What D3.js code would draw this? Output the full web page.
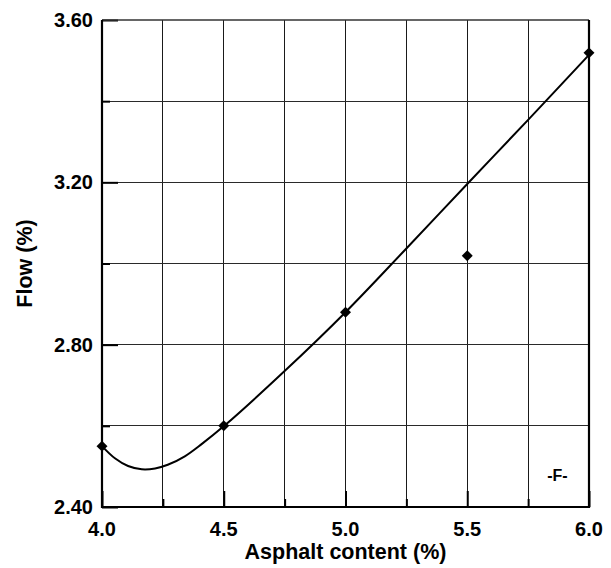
<!DOCTYPE html>
<html>
<head>
<meta charset="utf-8">
<script src="https://cdn.jsdelivr.net/npm/d3@7"></script>
<style>
  body { margin: 0; background: #fff; }
  text { font-family: Arial, "Liberation Sans", sans-serif; font-weight: bold; fill: #000; }
</style>
</head>
<body>
<div id="graph"></div>
<script>
// measured points
var asphalt = [4.0, 4.5, 5.0, 5.5, 6.0]
var flow = [2.550, 2.600, 2.880, 3.019, 3.519]

// fitted curve
var curveX = [4.00, 4.053, 4.107, 4.163, 4.218, 4.27, 4.34, 4.409, 4.502, 4.75, 5.0, 5.25, 5.5, 5.75, 6.0]
var curveY = [2.550, 2.520, 2.501, 2.493, 2.495, 2.504, 2.525, 2.555, 2.600, 2.735, 2.880, 3.037, 3.196, 3.354, 3.514]

var xTicks = [4.0, 4.5, 5.0, 5.5, 6.0]
var xGrid = [4.25, 4.5, 4.75, 5.0, 5.25, 5.5, 5.75]
var yTicks = [2.40, 2.80, 3.20, 3.60]
var yGrid = [2.6, 2.8, 3.0, 3.2, 3.4]

var W = 611, H = 568
var m = {left: 102, top: 20}
var w = 487, h = 487

var x = d3.scaleLinear().domain([4, 6]).range([0, w])
var y = d3.scaleLinear().domain([2.4, 3.6]).range([h, 0])

var svg = d3.select('#graph').append('svg')
  .attr('width', W).attr('height', H)

var g = svg.append('g').attr('transform', `translate(${m.left},${m.top})`)

// grid
g.selectAll('line.vg').data(xGrid).join('line')
  .attr('x1', d => x(d)).attr('x2', d => x(d))
  .attr('y1', 0).attr('y2', h)
  .attr('stroke', '#1a1a1a').attr('stroke-width', 1)
  .attr('shape-rendering', 'crispEdges')

g.selectAll('line.hg').data(yGrid).join('line')
  .attr('y1', d => y(d)).attr('y2', d => y(d))
  .attr('x1', 0).attr('x2', w)
  .attr('stroke', '#2a2a2a').attr('stroke-width', 1)
  .attr('shape-rendering', 'crispEdges')

// inward tick marks
var xAxis = g.append('g').attr('transform', `translate(0,${h})`)
  .call(d3.axisBottom(x).tickValues(d3.range(4, 6.01, 0.25)).tickSize(-8).tickFormat(''))
xAxis.selectAll('.tick line').attr('stroke', '#000').attr('stroke-width', 2)
  .attr('y2', (d, i) => i % 2 ? -8 : -16)
xAxis.select('.domain').remove()

var yAxis = g.append('g')
  .call(d3.axisLeft(y).tickValues(d3.range(2.4, 3.61, 0.2)).tickSize(-8).tickFormat(''))
yAxis.selectAll('.tick line').attr('stroke', '#000').attr('stroke-width', 2)
  .attr('x2', (d, i) => i % 2 ? 8 : 16)
yAxis.select('.domain').remove()

// frame
g.append('line').attr('x1', 0).attr('x2', w).attr('y1', 0).attr('y2', 0)
  .attr('stroke', '#333').attr('stroke-width', 1.5)
g.append('path')
  .attr('d', `M0,0 V${h} H${w} V0`)
  .attr('fill', 'none').attr('stroke', '#000').attr('stroke-width', 2.2)

// tick labels
g.selectAll('text.xl').data(xTicks).join('text')
  .attr('x', d => x(d)).attr('y', h + 29)
  .attr('text-anchor', 'middle').attr('font-size', 20)
  .text(d => d.toFixed(1))

g.selectAll('text.yl').data(yTicks).join('text')
  .attr('x', -9).attr('y', d => y(d)).attr('dy', '0.35em')
  .attr('text-anchor', 'end').attr('font-size', 20)
  .text(d => d.toFixed(2))

// axis titles
g.append('text').attr('x', w / 2).attr('y', h + 52)
  .attr('text-anchor', 'middle').attr('font-size', 21.5)
  .text('Asphalt content (%)')

svg.append('text')
  .attr('transform', `translate(32,${m.top + h / 2}) rotate(-90)`)
  .attr('text-anchor', 'middle').attr('font-size', 21.5)
  .text('Flow (%)')

g.append('text').attr('x', x(5.87)).attr('y', y(2.463))
  .attr('text-anchor', 'middle').attr('font-size', 16)
  .text('-F-')

// curve
var line = d3.line()
  .x(d => x(d[0])).y(d => y(d[1]))
  .curve(d3.curveCatmullRom.alpha(0.5))

g.append('path')
  .datum(d3.zip(curveX, curveY))
  .attr('d', line)
  .attr('fill', 'none').attr('stroke', '#000').attr('stroke-width', 2)

// points
g.selectAll('path.pt').data(d3.zip(asphalt, flow)).join('path')
  .attr('d', d3.symbol(d3.symbolSquare, 60))
  .attr('transform', d => `translate(${x(d[0])},${y(d[1])}) rotate(45)`)
  .attr('fill', '#000')
</script>
</body>
</html>
